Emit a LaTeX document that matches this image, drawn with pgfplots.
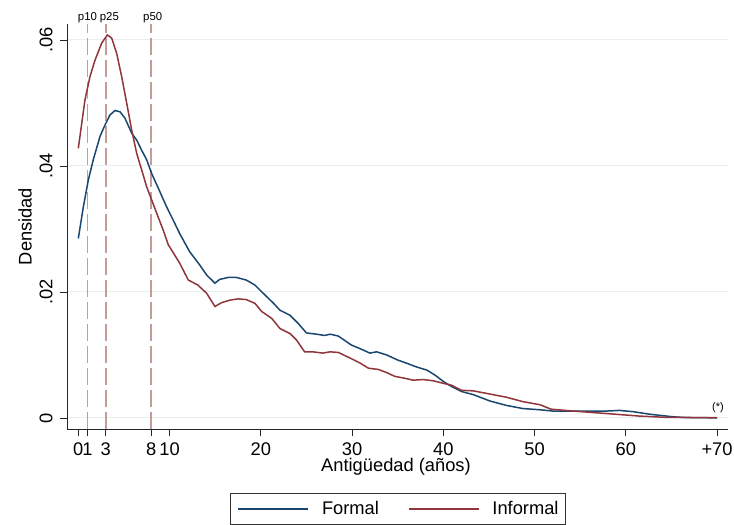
\documentclass[border=0pt]{standalone}
\usepackage{fontspec}
\setmainfont{Liberation Sans}
\usepackage{pgfplots}
\pgfplotsset{compat=1.18}
\definecolor{formal}{RGB}{26,71,111}
\definecolor{informal}{RGB}{144,53,59}
\definecolor{pline}{RGB}{196,156,152}
\definecolor{gridc}{RGB}{232,239,242}
\begin{document}
\begin{tikzpicture}
\begin{axis}[
  at={(0,0)}, anchor=south west,
  scale only axis, width=661pt, height=405pt,
  xmin=-1.24, xmax=71.2, ymin=-0.00175, ymax=0.06254,
  axis lines*=left, axis line style={black!85, line width=0.9pt, -},
  tick align=outside, major tick length=7pt, tick style={black!85, line width=0.9pt},
  xtick={0,1,3,8,10,20,30,40,50,60,70},
  xticklabels={0,1,3,8,10,20,30,40,50,60,+70},
  ytick={0,0.02,0.04,0.06},
  yticklabels={0,.02,.04,.06},
  scaled y ticks=false, scaled x ticks=false,
  ymajorgrids, grid style={gridc, line width=1pt},
  /pgf/number format/assume math mode=true,
  font=\fontsize{18.3}{22}\selectfont,
  ticklabel style={font=\fontsize{18.3}{22}\selectfont},
  yticklabel style={rotate=90, anchor=south},
  yticklabel shift=4pt, xticklabel shift=3pt,
  xlabel={Antigüedad (años)},
  ylabel={Densidad},
  xlabel style={at={(axis description cs:0.4977,-0.0938)}, anchor=center},
  ylabel style={at={(axis description cs:-0.0635,0.5)}, anchor=center},
  clip=false,
  legend columns=2,
  legend style={at={(0.5008,-0.158)}, anchor=north, draw=black!80, line width=0.8pt,
    /tikz/every even column/.append style={column sep=29pt},
    nodes={inner sep=0pt},
    inner xsep=7pt, inner ysep=8pt, font=\fontsize{18.3}{22}\selectfont},
  legend image code/.code={\draw[#1] (0pt,0pt) -- (70pt,0pt); \path (83pt,0pt);},
]
\addplot[pline, line width=1.8pt, dash pattern=on 17pt off 5pt, forget plot] coordinates {(1,-0.00175) (1,0.06254)};
\addplot[pline, line width=1.8pt, dash pattern=on 17pt off 5pt, forget plot] coordinates {(3,-0.00175) (3,0.06254)};
\addplot[pline, line width=1.8pt, dash pattern=on 17pt off 5pt, forget plot] coordinates {(8,-0.00175) (8,0.06254)};

\addplot[formal, line width=1.5pt] coordinates {
(0,.0285) (0.55,.0335) (1.1,.0378) (1.64,.0410) (2.38,.0447) (2.92,.0465)
(3.47,.0481) (4.02,.0488) (4.57,.0486) (5.11,.0476) (5.85,.0452) (6.4,.0441)
(6.94,.0425) (7.49,.0410) (8.04,.0388) (8.76,.0365) (9.68,.0335) (10.4,.0314)
(11.1,.0293) (12.2,.0264) (13.3,.0243) (14.06,.0227) (14.97,.0214) (15.5,.0220)
(16.4,.0223) (17.35,.0223) (18.4,.0219) (19.35,.0211) (20.26,.0198) (21.4,.0182)
(22.1,.0171) (23.2,.0163) (24.1,.0150) (25.0,.0135) (26.1,.0133) (27.0,.0131)
(27.6,.0133) (28.5,.0130) (29.9,.0116) (31.2,.0108) (31.95,.0103) (32.7,.0105)
(33.8,.0100) (35.0,.0092) (35.97,.0087) (37.06,.0081) (38.2,.0076) (39.1,.0068)
(40.0,.0058) (40.9,.0050) (42.0,.0042) (43.3,.0037) (45.1,.0027) (46.9,.0020)
(48.7,.0015) (50.6,.0013) (52.0,.0011) (54.2,.0011) (56.0,.0011) (57.9,.0011)
(59.3,.0012) (60.8,.0010) (62.6,.0006) (65.1,.0002) (66.6,.00005) (70,.00003)
};
\addlegendentry{Formal}
\addplot[informal, line width=1.5pt] coordinates {
(0,.0428) (0.73,.0505) (1.28,.0542) (1.83,.0568) (2.56,.0595) (3.18,.0608)
(3.66,.0603) (4.2,.0579) (4.75,.0542) (5.3,.0500) (5.85,.0457) (6.4,.0420)
(6.94,.0394) (7.49,.0367) (8.04,.0346) (8.59,.0325) (9.31,.0298) (9.86,.0275)
(11.1,.0246) (12.05,.0219) (13.1,.0211) (14.06,.0198) (14.97,.0177) (15.7,.0183)
(16.6,.0187) (17.5,.0189) (18.4,.0188) (19.35,.0182) (20.1,.0169) (21.2,.0158)
(22.1,.0142) (23.2,.0134) (23.9,.0124) (24.8,.0105) (25.7,.0105) (26.8,.0103)
(27.6,.0105) (28.5,.0104) (29.8,.0095) (30.9,.0087) (31.8,.0079) (32.9,.0077)
(33.8,.0072) (34.7,.0066) (35.8,.0063) (36.7,.0060) (37.8,.0061) (38.9,.0059)
(40.0,.0055) (40.9,.0052) (42.0,.0044) (43.3,.0043) (45.1,.0038) (46.9,.0033)
(48.7,.0026) (50.6,.0021) (51.8,.0014) (54.2,.0011) (57.9,.0007) (61.5,.0003)
(64.4,.0001) (70,.00005)
};
\addlegendentry{Informal}

\node[font=\fontsize{11.4}{13}\selectfont, anchor=base, yshift=3pt] at (axis cs:1,0.06254) {p10};
\node[font=\fontsize{11.4}{13}\selectfont, anchor=base, yshift=3pt] at (axis cs:3.4,0.06254) {p25};
\node[font=\fontsize{11.4}{13}\selectfont, anchor=base, yshift=3pt] at (axis cs:8.15,0.06254) {p50};
\node[font=\fontsize{11}{13}\selectfont, anchor=center] at (axis cs:70.1,0.0016) {(*)};
\end{axis}
\pgfresetboundingbox
\path[use as bounding box] (-67pt,-96pt) rectangle (667pt,429pt);
\end{tikzpicture}
\end{document}
